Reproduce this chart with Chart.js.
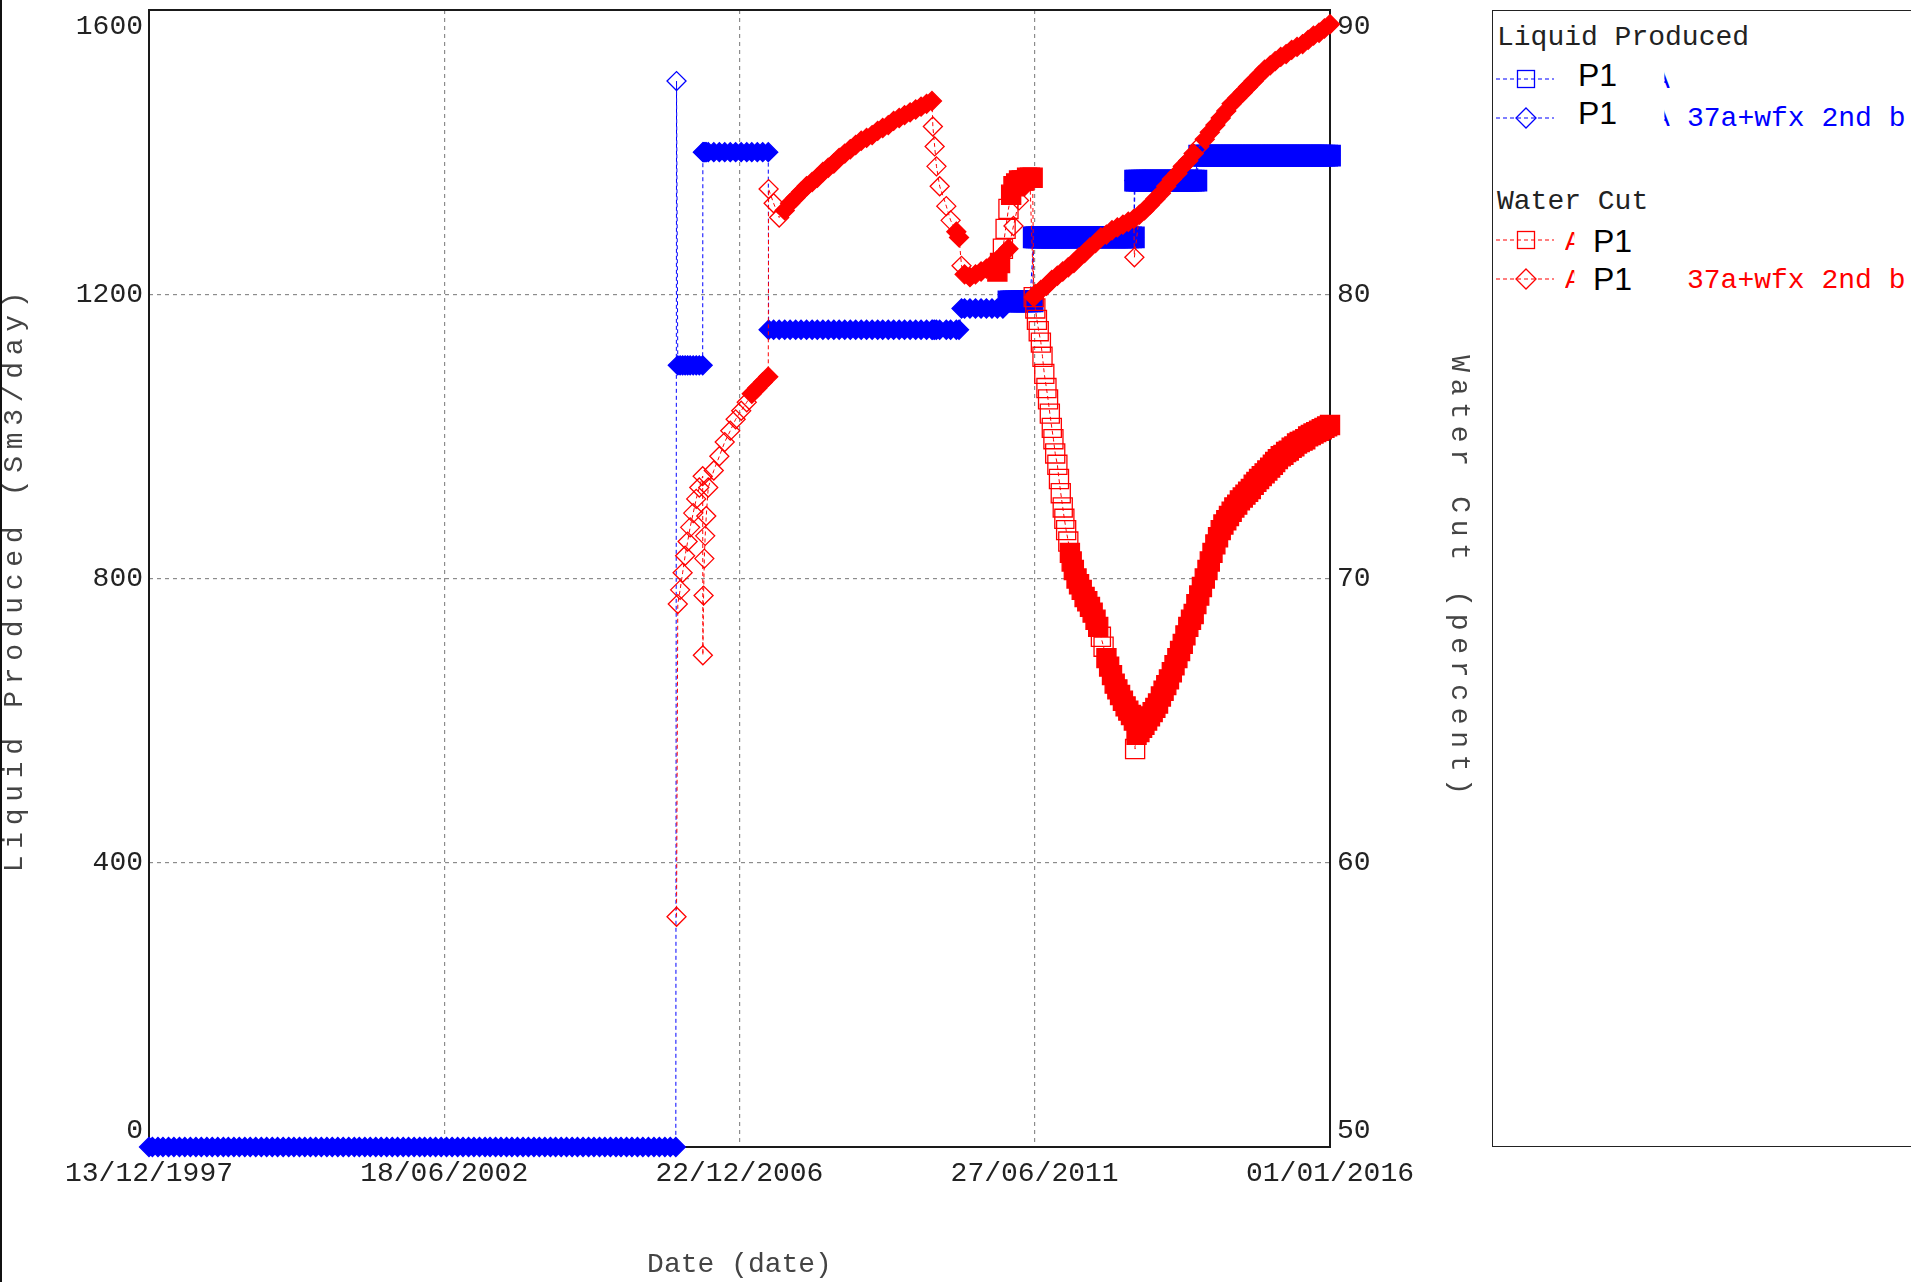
<!DOCTYPE html>
<html>
<head>
<meta charset="utf-8">
<title>P1 Liquid Produced and Water Cut</title>
<script src="https://cdn.jsdelivr.net/npm/chart.js@4.4.1/dist/chart.umd.min.js"></script>
<style>
  html, body { margin: 0; padding: 0; background: #fff; }
  #wrap { position: relative; width: 1911px; height: 1282px; overflow: hidden; background: #fff; }
  #chart { position: absolute; left: 0; top: 0; }
  #edge { position: absolute; left: 0; top: 0; width: 2px; height: 1282px; background: #111; }
  #legendBox { position: absolute; left: 1492px; top: 10px; width: 600px; height: 1135px;
               border: 1.5px solid #222; background: #fff; }
  .mono { position: absolute; font-family: 'Liberation Mono', monospace; font-size: 28px;
          line-height: 28px; white-space: pre; }
  .sans { position: absolute; font-family: 'Liberation Sans', Arial, sans-serif; font-size: 32px;
          line-height: 32px; white-space: pre; color: #000; }
  .sample { position: absolute; }
</style>
</head>
<body>
<div id="wrap">
  <canvas id="chart" width="1911" height="1282"></canvas>
  <div id="edge"></div>
  <div id="legendBox"></div>

  <!-- legend: Liquid Produced -->
  <div class="mono" style="left:1497px;top:24px;color:#222">Liquid Produced</div>
  <svg class="sample" style="left:1496px;top:64px" width="58" height="30">
    <line x1="0" y1="15" x2="58" y2="15" stroke="#0000ff" stroke-width="1.2" stroke-dasharray="4 3"/>
    <rect x="21.5" y="6.5" width="17" height="17" fill="none" stroke="#0000ff" stroke-width="1.3"/>
  </svg>
  <div class="sans" style="left:1578px;top:59px">P1</div>
  <div class="mono" style="left:1653px;top:67px;color:#0000ff;clip-path:inset(0 0 0 68%)">A</div>

  <svg class="sample" style="left:1496px;top:103px" width="58" height="30">
    <line x1="0" y1="15" x2="58" y2="15" stroke="#0000ff" stroke-width="1.2" stroke-dasharray="4 3"/>
    <polygon points="30,5 40,15 30,25 20,15" fill="none" stroke="#0000ff" stroke-width="1.3"/>
  </svg>
  <div class="sans" style="left:1578px;top:97px">P1</div>
  <div class="mono" style="left:1653px;top:105px;color:#0000ff;clip-path:inset(0 0 0 68%)">A</div>
  <div class="mono" style="left:1687px;top:105px;color:#0000ff">37a+wfx 2nd b</div>

  <!-- legend: Water Cut -->
  <div class="mono" style="left:1497px;top:188px;color:#222">Water Cut</div>
  <svg class="sample" style="left:1496px;top:225px" width="58" height="30">
    <line x1="0" y1="15" x2="58" y2="15" stroke="#ff0000" stroke-width="1.2" stroke-dasharray="4 3"/>
    <rect x="21.5" y="6.5" width="17" height="17" fill="none" stroke="#ff0000" stroke-width="1.3"/>
  </svg>
  <div class="mono" style="left:1565px;top:229px;color:#ff0000;clip-path:inset(0 45% 0 0)">A</div>
  <div class="sans" style="left:1593px;top:225px">P1</div>

  <svg class="sample" style="left:1496px;top:264px" width="58" height="30">
    <line x1="0" y1="15" x2="58" y2="15" stroke="#ff0000" stroke-width="1.2" stroke-dasharray="4 3"/>
    <polygon points="30,5 40,15 30,25 20,15" fill="none" stroke="#ff0000" stroke-width="1.3"/>
  </svg>
  <div class="mono" style="left:1565px;top:267px;color:#ff0000;clip-path:inset(0 45% 0 0)">A</div>
  <div class="sans" style="left:1593px;top:263px">P1</div>
  <div class="mono" style="left:1687px;top:267px;color:#ff0000">37a+wfx 2nd b</div>
</div>

<script>
// ---- axis tick labels ----
const xTickLabels = ['13/12/1997', '18/06/2002', '22/12/2006', '27/06/2011', '01/01/2016'];
const liquidTickLabels = ['0', '400', '800', '1200', '1600'];
const waterCutTickLabels = ['50', '60', '70', '80', '90'];

// ---- simulation run "37a+wfx 2nd b": report dates ----
const simDates = [
  '1997-12-13',
  '1998-01','1998-02','1998-03','1998-04','1998-05','1998-06','1998-07','1998-08','1998-09','1998-10','1998-11','1998-12',
  '1999-01','1999-02','1999-03','1999-04','1999-05','1999-06','1999-07','1999-08','1999-09','1999-10','1999-11','1999-12',
  '2000-01','2000-02','2000-03','2000-04','2000-05','2000-06','2000-07','2000-08','2000-09','2000-10','2000-11','2000-12',
  '2001-01','2001-02','2001-03','2001-04','2001-05','2001-06','2001-07','2001-08','2001-09','2001-10','2001-11','2001-12',
  '2002-01','2002-02','2002-03','2002-04','2002-05','2002-06','2002-07','2002-08','2002-09','2002-10','2002-11','2002-12',
  '2003-01','2003-02','2003-03','2003-04','2003-05','2003-06','2003-07','2003-08','2003-09','2003-10','2003-11','2003-12',
  '2004-01','2004-02','2004-03','2004-04','2004-05','2004-06','2004-07','2004-08','2004-09','2004-10','2004-11','2004-12',
  '2005-01','2005-02','2005-03','2005-04','2005-05','2005-06','2005-07','2005-08','2005-09','2005-10','2005-11','2005-12',
  '2006-01','2006-01-05','2006-01-12','2006-01-25','2006-02-08','2006-02-22','2006-03-08','2006-03-22','2006-04-08','2006-04-25','2006-05-12','2006-05-31',
  '2006-06-01','2006-06-05','2006-06-09','2006-06-14','2006-06-20','2006-07','2006-08','2006-09','2006-10','2006-11','2006-12',
  '2007-01','2007-02','2007-03','2007-04','2007-05','2007-06','2007-06-03','2007-07','2007-08','2007-09','2007-10','2007-11','2007-12',
  '2008-01','2008-02','2008-03','2008-04','2008-05','2008-06','2008-07','2008-08','2008-09','2008-10','2008-11','2008-12',
  '2009-01','2009-02','2009-03','2009-04','2009-05','2009-06','2009-07','2009-08','2009-09','2009-10','2009-11','2009-12','2009-12-06','2009-12-16','2009-12-26',
  '2010-01-13','2010-02-19','2010-03-15','2010-04-16','2010-05','2010-05-15','2010-06','2010-07','2010-08','2010-09','2010-10','2010-11','2010-12',
  '2011-01','2011-02','2011-03','2011-04','2011-05','2011-06','2011-06-22','2011-07','2011-08','2011-09','2011-10','2011-11','2011-12',
  '2012-01','2012-02','2012-03','2012-04','2012-05','2012-06','2012-07','2012-08','2012-09','2012-10','2012-11','2012-12',
  '2013-01','2013-01-04','2013-02','2013-03','2013-04','2013-05','2013-06','2013-07','2013-08','2013-09','2013-10','2013-11','2013-12',
  '2014-01','2014-02','2014-03','2014-04','2014-05','2014-06','2014-07','2014-08','2014-09','2014-10','2014-11','2014-12',
  '2015-01','2015-02','2015-03','2015-04','2015-05','2015-06','2015-07','2015-08','2015-09','2015-10','2015-11','2015-12',
  '2016-01'
];

// liquid rate of the simulation run (Sm3/day)
const simLiquid = [
  0,
  0,0,0,0,0,0,0,0,0,0,0,0,
  0,0,0,0,0,0,0,0,0,0,0,0,
  0,0,0,0,0,0,0,0,0,0,0,0,
  0,0,0,0,0,0,0,0,0,0,0,0,
  0,0,0,0,0,0,0,0,0,0,0,0,
  0,0,0,0,0,0,0,0,0,0,0,0,
  0,0,0,0,0,0,0,0,0,0,0,0,
  0,0,0,0,0,0,0,0,0,0,0,0,
  0,1500,1100,1100,1100,1100,1100,1100,1100,1100,1100,1100,
  1400,1400,1400,1400,1400,1400,1400,1400,1400,1400,1400,
  1400,1400,1400,1400,1400,1400,1150,1150,1150,1150,1150,1150,1150,
  1150,1150,1150,1150,1150,1150,1150,1150,1150,1150,1150,1150,
  1150,1150,1150,1150,1150,1150,1150,1150,1150,1150,1150,1150,1150,1150,1150,
  1150,1150,1150,1150,1150,1180,1180,1180,1180,1180,1180,1180,1180,
  1180,1190,1190,1190,1190,1190,1280,1280,1280,1280,1280,1280,1280,
  1280,1280,1280,1280,1280,1280,1280,1280,1280,1280,1280,1280,
  1280,1360,1360,1360,1360,1360,1360,1360,1360,1360,1360,1360,1360,
  1395,1395,1395,1395,1395,1395,1395,1395,1395,1395,1395,1395,
  1395,1395,1395,1395,1395,1395,1395,1395,1395,1395,1395,1395,
  1395
];

// water cut of the simulation run (percent)
const simWaterCut = [
  null,
  null,null,null,null,null,null,null,null,null,null,null,null,
  null,null,null,null,null,null,null,null,null,null,null,null,
  null,null,null,null,null,null,null,null,null,null,null,null,
  null,null,null,null,null,null,null,null,null,null,null,null,
  null,null,null,null,null,null,null,null,null,null,null,null,
  null,null,null,null,null,null,null,null,null,null,null,null,
  null,null,null,null,null,null,null,null,null,null,null,null,
  null,null,null,null,null,null,null,null,null,null,null,null,
  null,58.1,69.1,69.6,70.2,70.8,71.3,71.8,72.3,72.8,73.2,73.6,
  67.3,69.4,70.7,71.5,72.2,73.2,73.8,74.3,74.8,75.2,75.6,
  75.9,76.2,76.5,76.7,76.9,77.1,83.7,83.2,82.7,82.95,83.2,83.4,83.6,
  83.8,83.95,84.1,84.3,84.45,84.6,84.8,84.95,85.1,85.25,85.4,85.5,
  85.6,85.75,85.85,85.95,86.1,86.2,86.3,86.4,86.5,86.6,86.7,86.8,85.9,85.2,84.5,
  83.8,83.1,82.6,82.2,82.0,81.0,80.7,80.6,80.7,80.8,80.9,81.05,81.2,
  81.4,81.6,82.4,83.3,83.8,84.0,79.9,80.0,80.15,80.3,80.5,80.65,80.8,
  80.95,81.1,81.3,81.45,81.65,81.8,82.0,82.1,82.25,82.35,82.45,82.55,
  82.65,81.3,82.8,82.95,83.15,83.35,83.55,83.8,84.05,84.25,84.5,84.7,84.95,
  85.2,85.45,85.7,85.95,86.2,86.45,86.7,86.9,87.1,87.3,87.5,87.7,
  87.9,88.05,88.2,88.35,88.45,88.6,88.7,88.8,88.95,89.1,89.2,89.35,
  89.5
];

// ---- observed history of well P1: report dates ----
const histDates = [
  '2010-12-01','2010-12-16',
  '2011-01-01','2011-01-16','2011-02-01','2011-02-16','2011-03-01','2011-03-16','2011-04-01','2011-04-16','2011-05-01','2011-05-16','2011-06-01','2011-06-16',
  '2011-06-22','2011-07-01','2011-07-10','2011-07-20','2011-08-01','2011-08-10','2011-08-20','2011-09-01','2011-09-10','2011-09-20','2011-10-01','2011-10-10','2011-10-20','2011-11-01','2011-11-10','2011-11-20','2011-12-01','2011-12-10','2011-12-20',
  '2012-01-01','2012-01-10','2012-01-20','2012-02-01','2012-02-16','2012-03-01','2012-03-16','2012-04-01','2012-04-16','2012-05-01','2012-05-16','2012-06-01','2012-06-16','2012-07-01','2012-07-16','2012-08-01','2012-08-16','2012-09-01','2012-09-16','2012-10-01','2012-10-16','2012-11-01','2012-11-16','2012-12-01','2012-12-16',
  '2013-01-01','2013-01-08','2013-01-16','2013-02-01','2013-02-16','2013-03-01','2013-03-16','2013-04-01','2013-04-16','2013-05-01','2013-05-16','2013-06-01','2013-06-16','2013-07-01','2013-07-16','2013-08-01','2013-08-16','2013-09-01','2013-09-16','2013-10-01','2013-10-16','2013-11-01','2013-11-16','2013-12-01','2013-12-16',
  '2014-01-01','2014-01-16','2014-02-01','2014-02-16','2014-03-01','2014-03-16','2014-04-01','2014-04-16','2014-05-01','2014-05-16','2014-06-01','2014-06-16','2014-07-01','2014-07-16','2014-08-01','2014-08-16','2014-09-01','2014-09-16','2014-10-01','2014-10-16','2014-11-01','2014-11-16','2014-12-01','2014-12-16',
  '2015-01-01','2015-01-16','2015-02-01','2015-02-16','2015-03-01','2015-03-16','2015-04-01','2015-04-16','2015-05-01','2015-05-16','2015-06-01','2015-06-16','2015-07-01','2015-07-16','2015-08-01','2015-08-16','2015-09-01','2015-09-16','2015-10-01','2015-10-16','2015-11-01','2015-11-16','2015-12-01','2015-12-16',
  '2016-01-01'
];

// observed liquid rate (Sm3/day)
const histLiquid = [
  null,null,
  null,null,1190,1190,1190,1190,1190,1190,1190,1190,1190,1190,
  1280,1280,1280,1280,1280,1280,1280,1280,1280,1280,1280,1280,1280,1280,1280,1280,1280,1280,1280,
  1280,1280,1280,1280,1280,1280,1280,1280,1280,1280,1280,1280,1280,1280,1280,1280,1280,1280,1280,1280,1280,1280,1280,1280,1280,
  1280,1360,1360,1360,1360,1360,1360,1360,1360,1360,1360,1360,1360,1360,1360,1360,1360,1360,1360,1360,1360,1360,1360,1360,1360,
  1395,1395,1395,1395,1395,1395,1395,1395,1395,1395,1395,1395,1395,1395,1395,1395,1395,1395,1395,1395,1395,1395,1395,1395,
  1395,1395,1395,1395,1395,1395,1395,1395,1395,1395,1395,1395,1395,1395,1395,1395,1395,1395,1395,1395,1395,1395,1395,1395,
  1395
];

// observed water cut (percent)
const histWaterCut = [
  80.8,81.1,
  81.6,82.3,83.0,83.5,83.8,83.9,84.0,84.0,84.0,84.1,84.1,84.1,
  79.9,79.5,79.1,78.7,78.3,77.8,77.2,76.7,76.3,75.8,75.3,74.9,74.4,74.0,73.5,73.0,72.5,72.1,71.7,
  71.3,70.9,70.6,70.3,70.0,69.8,69.6,69.35,69.2,69.0,68.8,68.55,68.3,67.95,67.6,67.2,66.9,66.6,66.3,66.1,65.9,65.7,65.5,65.35,65.2,
  65.0,64.0,64.5,64.6,64.75,64.85,65.0,65.15,65.3,65.45,65.6,65.85,66.05,66.25,66.45,66.7,66.95,67.2,67.45,67.7,68.0,68.3,68.55,68.75,69.1,
  69.4,69.7,70.0,70.3,70.6,70.9,71.2,71.45,71.7,71.9,72.05,72.2,72.35,72.5,72.6,72.75,72.85,72.95,73.05,73.15,73.3,73.4,73.5,73.6,
  73.7,73.8,73.9,74.0,74.1,74.2,74.3,74.35,74.45,74.5,74.6,74.65,74.75,74.8,74.85,74.9,75.0,75.05,75.1,75.15,75.2,75.25,75.3,75.35,
  75.4
];

// ---- helpers ----
function isoToTime(s) {
  const p = s.split('-').map(Number);
  return Date.UTC(p[0], p[1] - 1, p[2] || 1);
}
function dmyToTime(s) {
  const p = s.split('/').map(Number);
  return Date.UTC(p[2], p[1] - 1, p[0]);
}
function points(dates, values) {
  const out = [];
  dates.forEach((d, i) => {
    const v = values[i];
    if (v !== null && v !== undefined) out.push({ x: isoToTime(d), y: v });
  });
  return out;
}

const BLUE = '#0000ff';
const RED = '#ff0000';
const GRID = '#8c8c8c';
const TEXT = '#222222';
const TITLE = '#444444';
const FONT = "'Liberation Mono', 'DejaVu Sans Mono', monospace";
const CROWDED_PX = 9;   // markers closer than this to a neighbour merge into a solid band

// distance in pixels from a marker to its nearest neighbour in the same series
function nearestGap(ctx) {
  const data = ctx.dataset.data;
  const i = ctx.dataIndex;
  const xs = ctx.chart.scales.x;
  const ys = ctx.chart.scales[ctx.dataset.yAxisID];
  if (!xs || !ys || !data[i]) return Infinity;
  const px = (p) => [xs.getPixelForValue(p.x), ys.getPixelForValue(p.y)];
  const [x0, y0] = px(data[i]);
  let best = Infinity;
  [i - 1, i + 1].forEach(j => {
    if (j < 0 || j >= data.length) return;
    const [x1, y1] = px(data[j]);
    best = Math.min(best, Math.hypot(x1 - x0, y1 - y0));
  });
  return best;
}

function markerSet(label, data, axis, color, style, radius) {
  return {
    label: label,
    data: data,
    yAxisID: axis,
    showLine: true,
    borderColor: color,
    borderWidth: 1,
    borderDash: [4, 3],
    pointStyle: style,
    pointRadius: radius,
    pointHoverRadius: radius,
    pointBorderColor: color,
    pointBorderWidth: 1.3,
    pointBackgroundColor: (ctx) => nearestGap(ctx) < CROWDED_PX ? color : 'rgba(255,255,255,0)',
    clip: false
  };
}

// chart frame around the plotting area, drawn beneath the data
const framePlugin = {
  id: 'frame',
  beforeDatasetsDraw(chart) {
    const { ctx, chartArea: a } = chart;
    ctx.save();
    ctx.strokeStyle = '#1a1a1a';
    ctx.lineWidth = 2;
    ctx.strokeRect(a.left, a.top, a.right - a.left, a.bottom - a.top);
    ctx.restore();
  }
};

// the two value-axis titles are set with wide letter spacing
const titleSpacing = { yLiq: '6.7px', yWC: '6.7px' };
const spacedTitlePlugin = {
  id: 'spacedTitles',
  beforeDraw(chart) {
    Object.values(chart.scales).forEach(scale => {
      const sp = titleSpacing[scale.id];
      if (!sp || scale._spacedTitle) return;
      const drawTitle = scale.drawTitle;
      scale.drawTitle = function () {
        const c = this.ctx;
        c.save();
        c.letterSpacing = sp;
        drawTitle.call(this);
        c.restore();
      };
      scale._spacedTitle = true;
    });
  }
};

function gridColor(ctx) {
  const n = ctx.scale.ticks.length;
  return (ctx.index === 0 || ctx.index === n - 1) ? 'rgba(0,0,0,0)' : GRID;
}
function edgeLabel(list) {
  return (value, index, ticks) => {
    const t = list[index];
    if (index === 0) return [t, ''];
    if (index === ticks.length - 1) return ['', t];
    return t;
  };
}

Chart.defaults.font.family = FONT;
Chart.defaults.font.size = 28;

new Chart(document.getElementById('chart'), {
  type: 'scatter',
  data: {
    datasets: [
      markerSet('Water Cut P1', points(histDates, histWaterCut), 'yWC', RED, 'rect', 13.5),
      markerSet('Water Cut P1 37a+wfx 2nd b', points(simDates, simWaterCut), 'yWC', RED, 'rectRot', 9.5),
      markerSet('Liquid Produced P1', points(histDates, histLiquid), 'yLiq', BLUE, 'rect', 14.5),
      markerSet('Liquid Produced P1 37a+wfx 2nd b', points(simDates, simLiquid), 'yLiq', BLUE, 'rectRot', 9.5)
    ]
  },
  options: {
    responsive: false,
    animation: false,
    devicePixelRatio: 1,
    layout: { autoPadding: false, padding: { left: 0, top: 10, right: 435, bottom: 0 } },
    plugins: { legend: { display: false }, tooltip: { enabled: false } },
    scales: {
      x: {
        type: 'linear',
        position: 'bottom',
        min: dmyToTime(xTickLabels[0]),
        max: dmyToTime(xTickLabels[xTickLabels.length - 1]),
        afterBuildTicks: (s) => { s.ticks = xTickLabels.map(l => ({ value: dmyToTime(l) })); },
        afterFit: (s) => { s.height = 135; s.paddingLeft = 0; s.paddingRight = 0; },
        ticks: { autoSkip: false, maxRotation: 0, padding: 10, color: TEXT,
                 callback: (v, i) => xTickLabels[i] },
        grid: { drawTicks: false, color: gridColor, lineWidth: 1.2, borderDash: [4, 4] },
        border: { display: false, dash: [4, 4] },
        title: { display: true, text: 'Date (date)', color: TITLE, padding: { top: 0, bottom: 1 } }
      },
      yLiq: {
        type: 'linear',
        position: 'left',
        min: 0,
        max: 1600,
        afterBuildTicks: (s) => { s.ticks = liquidTickLabels.map(t => ({ value: Number(t) })); },
        afterFit: (s) => { s.width = 149; s.paddingTop = 0; s.paddingBottom = 0; },
        ticks: { autoSkip: false, padding: 6, color: TEXT, callback: edgeLabel(liquidTickLabels) },
        grid: { drawTicks: false, color: gridColor, lineWidth: 1.2, borderDash: [4, 4] },
        border: { display: false, dash: [4, 4] },
        title: { display: true, text: 'Liquid Produced (Sm3/day)', color: TITLE,
                 font: { lineHeight: 1.05 }, padding: { top: 0, bottom: 0 } }
      },
      yWC: {
        type: 'linear',
        position: 'right',
        min: 50,
        max: 90,
        afterBuildTicks: (s) => { s.ticks = waterCutTickLabels.map(t => ({ value: Number(t) })); },
        afterFit: (s) => { s.width = 146; s.paddingTop = 0; s.paddingBottom = 0; },
        ticks: { autoSkip: false, padding: 7, color: TEXT, callback: edgeLabel(waterCutTickLabels) },
        grid: { display: false, drawTicks: false },
        border: { display: false },
        title: { display: true, text: 'Water Cut (percent)', color: TITLE, padding: { top: 0, bottom: 0 } }
      }
    }
  },
  plugins: [framePlugin, spacedTitlePlugin]
});
</script>
</body>
</html>
